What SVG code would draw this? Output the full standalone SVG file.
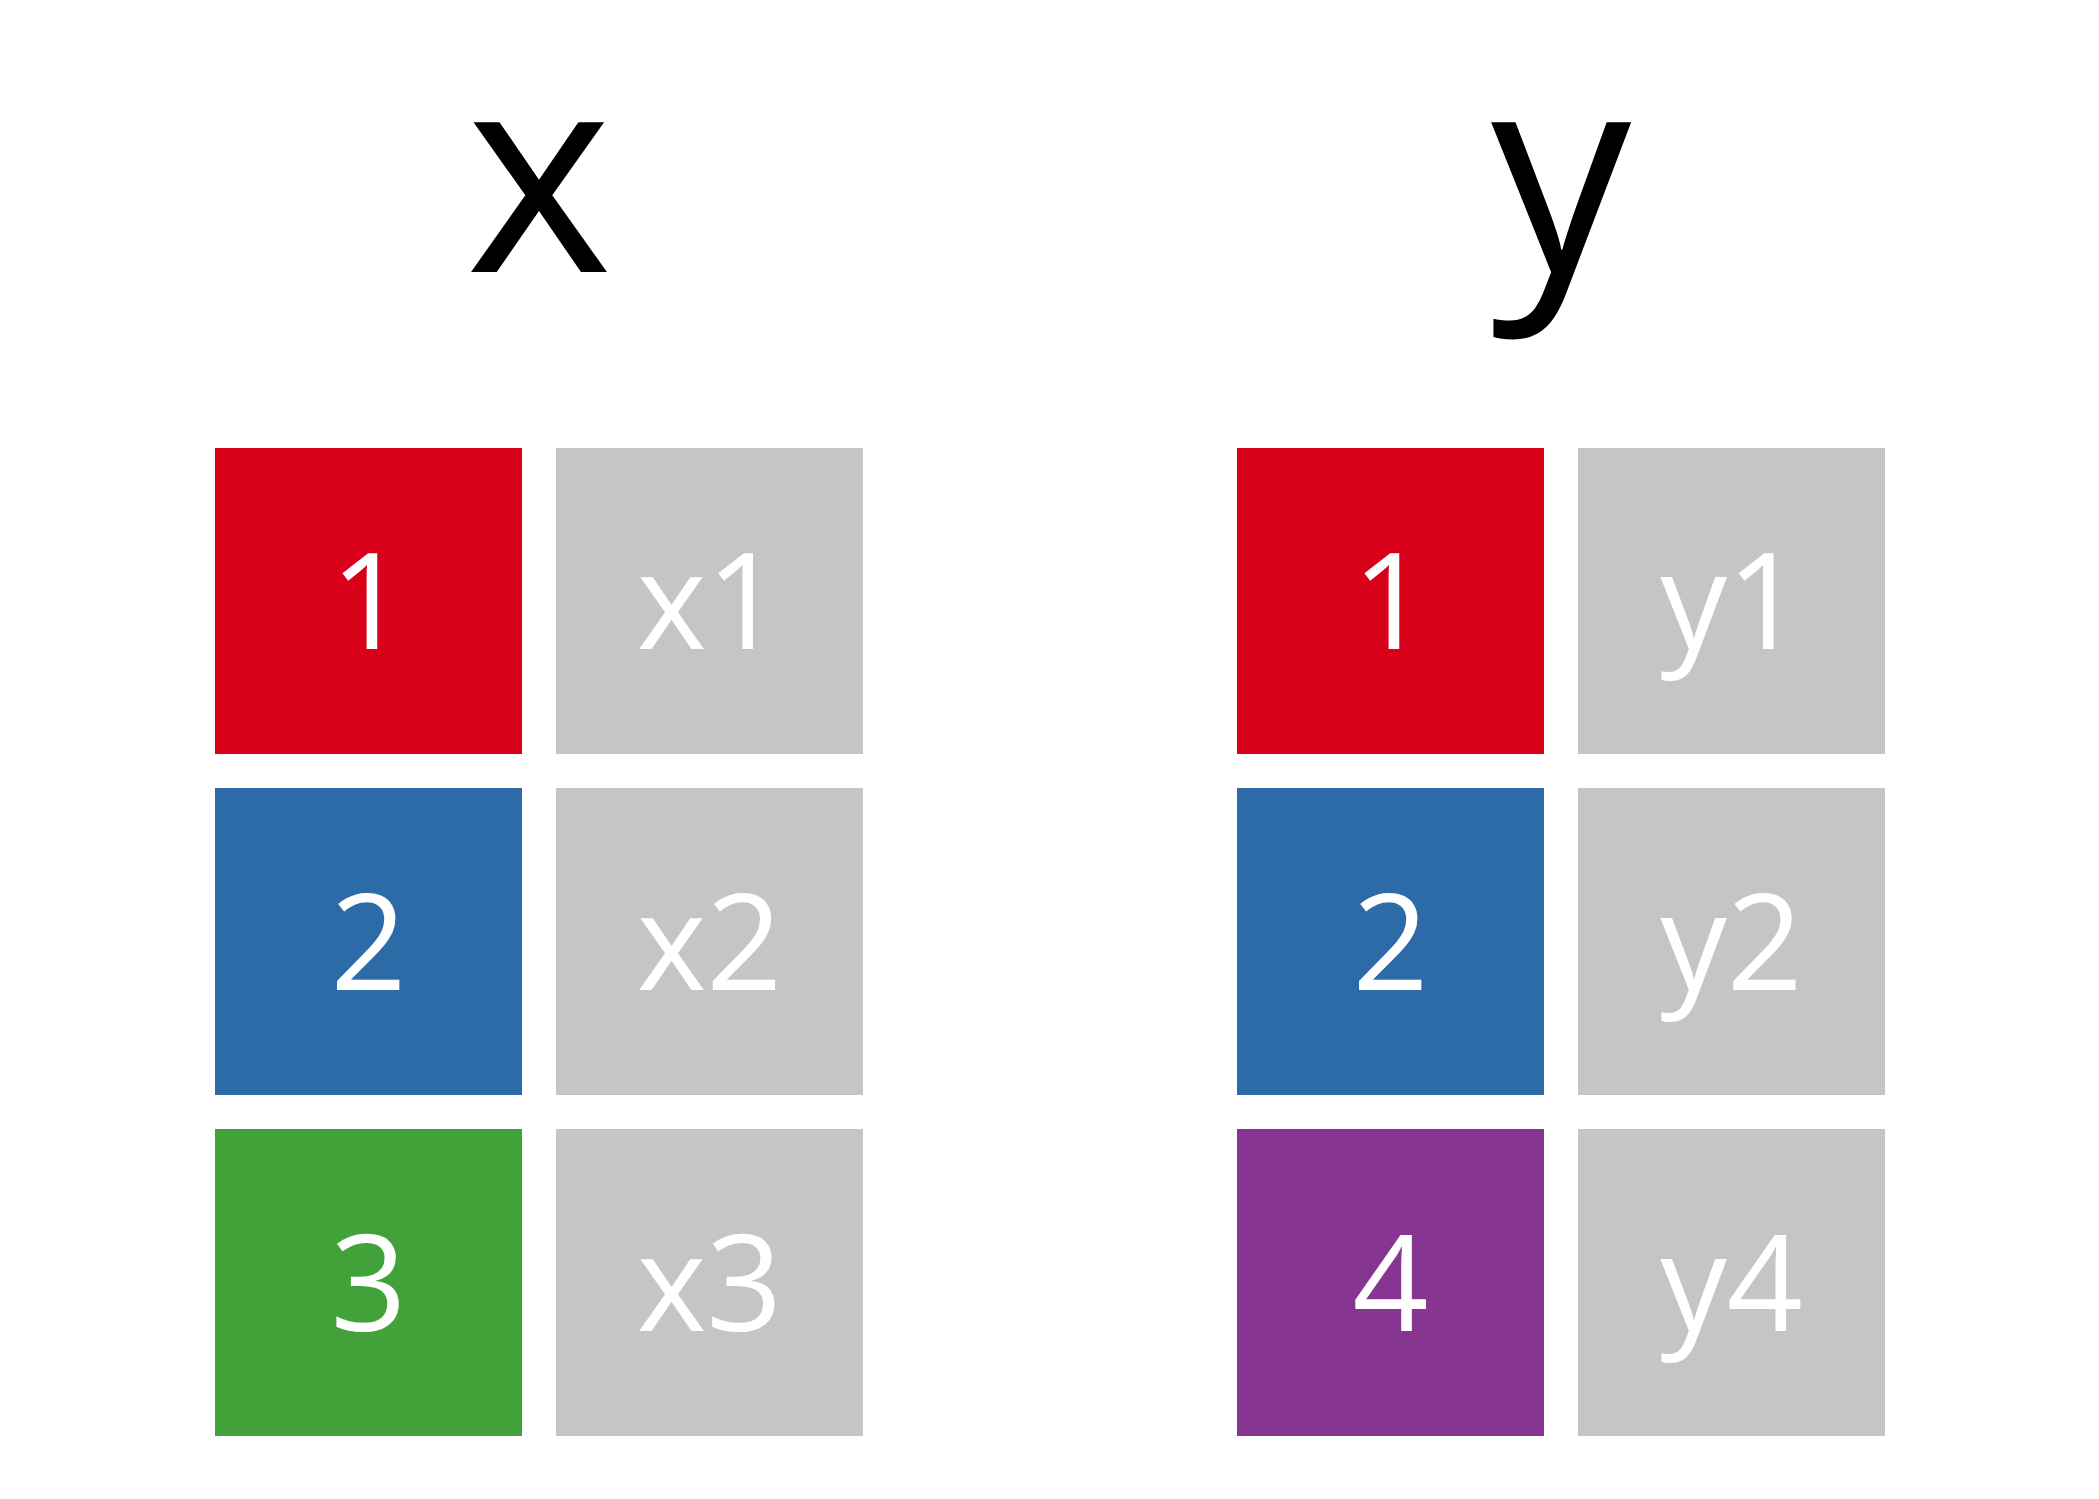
<svg xmlns="http://www.w3.org/2000/svg" width="2099" height="1499" viewBox="0 0 2099 1499">
<style>
.cell{stroke:none}
.red{fill:#d90019}
.blue{fill:#2d6ba8}
.green{fill:#42a23a}
.purple{fill:#863690}
.gray{fill:#c5c5c5}
.lbl{font-family:"Open Sans","Liberation Sans",sans-serif;font-size:133px;fill:#ffffff;text-anchor:middle}
.title{font-family:"Open Sans","Liberation Sans",sans-serif;font-size:280px;fill:#000000;text-anchor:middle}
</style>
<rect width="2099" height="1499" fill="#ffffff"/>
<g id="title-x"><text class="title" x="539" y="272">x</text></g>
<g id="title-y"><text class="title" x="1561" y="272">y</text></g>
<g id="x-key-1"><rect class="cell red" x="215" y="448" width="307" height="306"/><text class="lbl" x="368.5" y="649">1</text></g>
<g id="x-val-1"><rect class="cell gray" x="556" y="448" width="307" height="306"/><text class="lbl" x="709.5" y="649">x1</text></g>
<g id="x-key-2"><rect class="cell blue" x="215" y="788" width="307" height="307"/><text class="lbl" x="368.5" y="990">2</text></g>
<g id="x-val-2"><rect class="cell gray" x="556" y="788" width="307" height="307"/><text class="lbl" x="709.5" y="990">x2</text></g>
<g id="x-key-3"><rect class="cell green" x="215" y="1129" width="307" height="307"/><text class="lbl" x="368.5" y="1331">3</text></g>
<g id="x-val-3"><rect class="cell gray" x="556" y="1129" width="307" height="307"/><text class="lbl" x="709.5" y="1331">x3</text></g>
<g id="y-key-1"><rect class="cell red" x="1237" y="448" width="307" height="306"/><text class="lbl" x="1390.5" y="649">1</text></g>
<g id="y-val-1"><rect class="cell gray" x="1578" y="448" width="307" height="306"/><text class="lbl" x="1731.5" y="649">y1</text></g>
<g id="y-key-2"><rect class="cell blue" x="1237" y="788" width="307" height="307"/><text class="lbl" x="1390.5" y="990">2</text></g>
<g id="y-val-2"><rect class="cell gray" x="1578" y="788" width="307" height="307"/><text class="lbl" x="1731.5" y="990">y2</text></g>
<g id="y-key-4"><rect class="cell purple" x="1237" y="1129" width="307" height="307"/><text class="lbl" x="1390.5" y="1331">4</text></g>
<g id="y-val-4"><rect class="cell gray" x="1578" y="1129" width="307" height="307"/><text class="lbl" x="1731.5" y="1331">y4</text></g>
<g id="connectors"></g>
</svg>
